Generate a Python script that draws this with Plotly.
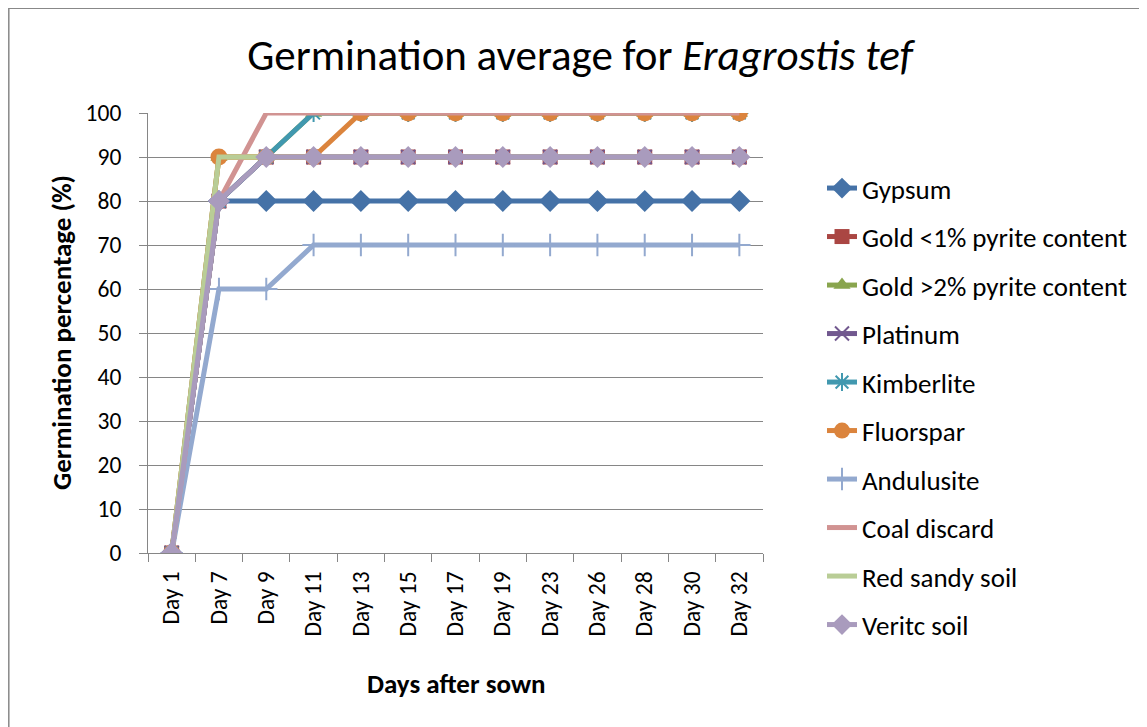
import plotly.graph_objects as go

days = ["Day 1", "Day 7", "Day 9", "Day 11", "Day 13", "Day 15", "Day 17",
        "Day 19", "Day 23", "Day 26", "Day 28", "Day 30", "Day 32"]

gypsum      = [0, 80, 80, 80, 80, 80, 80, 80, 80, 80, 80, 80, 80]
gold_lt1    = [0, 80, 90, 90, 90, 90, 90, 90, 90, 90, 90, 90, 90]
gold_gt2    = [0, 90, 90, 100, 100, 100, 100, 100, 100, 100, 100, 100, 100]
platinum    = [0, 80, 90, 90, 90, 90, 90, 90, 90, 90, 90, 90, 90]
kimberlite  = [0, 80, 90, 100, 100, 100, 100, 100, 100, 100, 100, 100, 100]
fluorspar   = [0, 90, 90, 90, 100, 100, 100, 100, 100, 100, 100, 100, 100]
andulusite  = [0, 60, 60, 70, 70, 70, 70, 70, 70, 70, 70, 70, 70]
coal        = [0, 80, 100, 100, 100, 100, 100, 100, 100, 100, 100, 100, 100]
red_sandy   = [0, 90, 90, 90, 90, 90, 90, 90, 90, 90, 90, 90, 90]
veritc      = [0, 80, 90, 90, 90, 90, 90, 90, 90, 90, 90, 90, 90]

series_names = ["Gypsum", "Gold <1% pyrite content", "Gold >2% pyrite content",
                "Platinum", "Kimberlite", "Fluorspar", "Andulusite",
                "Coal discard", "Red sandy soil", "Veritc soil"]
series_values = [gypsum, gold_lt1, gold_gt2, platinum, kimberlite, fluorspar,
                 andulusite, coal, red_sandy, veritc]

colors = ["#4572A7", "#AA4643", "#89A54E", "#71588F", "#4198AF", "#DB843D",
          "#93A9CF", "#D19392", "#B9CD96", "#A99BBD"]
symbols = ["diamond", "square", "triangle-up", "x-thin", "asterisk-open", "circle",
           "cross-thin", None, None, "diamond"]
msizes = [17, 15, 15, 14, 15, 17, 16, 0, 0, 17]

FONT = "Carlito, Lato, sans-serif"

# the page body has an 8px margin, so figure coords = screen coords - 8
OFF = 8
W, H = 1147 - OFF, 727 - OFF
L, R, T, B = 148 - OFF, 763 - OFF, 113 - OFF, 553 - OFF

def px(xs):
    return (xs - OFF - L) / (R - L)

def py(ys):
    return (B - (ys - OFF)) / (B - T)

fig = go.Figure()
for i, (name, vals) in enumerate(zip(series_names, series_values)):
    sym = symbols[i]
    if sym is None:
        mode = "lines"
        marker = None
    else:
        mode = "lines+markers"
        if sym in ("x-thin", "asterisk-open", "cross-thin"):
            marker = dict(symbol=sym, size=msizes[i], color=colors[i],
                          line=dict(color=colors[i], width=2))
        else:
            marker = dict(symbol=sym, size=msizes[i], color=colors[i],
                          line=dict(width=0))
    fig.add_trace(go.Scatter(
        x=days, y=vals, name=name, mode=mode,
        line=dict(color=colors[i], width=5),
        marker=marker, legendgroup=name,
    ))

fig.update_layout(
    width=W, height=H, autosize=False,
    margin=dict(l=L, r=W - R, t=T, b=H - B, pad=0, autoexpand=False),
    paper_bgcolor="white", plot_bgcolor="white",
    font=dict(family=FONT, size=23, color="black"),
    showlegend=True,
    legend=dict(x=(862 - OFF - 40 - L) / (R - L), xref="paper",
                y=1 - (188 - OFF - 24) / H, yref="container",
                xanchor="left", yanchor="top",
                font=dict(family=FONT, size=27, color="black"),
                traceorder="grouped", tracegroupgap=10.4,
                bgcolor="rgba(0,0,0,0)", borderwidth=0),
    title=dict(text="Germination average for <i>Eragrostis tef</i>",
               x=(580 - OFF) / W, xanchor="center", xref="container",
               y=1 - (55 - OFF) / H, yanchor="middle", yref="container",
               font=dict(family=FONT, size=43, color="black")),
)
fig.update_layout(legend_maxheight=660)

fig.update_xaxes(
    type="category", tickangle=-90, showgrid=False,
    showline=True, linecolor="#868686", linewidth=1,
    ticks="outside", ticklen=8, tickcolor="#868686", tickson="boundaries",
    tickfont=dict(family=FONT, size=23.5, color="black"),
    ticklabelstandoff=8, automargin=False,
    range=[-0.5, len(days) - 0.5],
)
fig.update_yaxes(
    range=[0, 100], dtick=10, tick0=0,
    showgrid=True, gridcolor="#868686", gridwidth=1,
    showline=True, linecolor="#868686", linewidth=1,
    ticks="outside", ticklen=8, tickcolor="#868686",
    tickfont=dict(family=FONT, size=23.5, color="black"),
    ticklabelstandoff=13, zeroline=False, automargin=False,
)

fig.add_annotation(text="<b>Days after sown</b>", xref="paper", yref="paper",
                   x=px(456), y=py(683), showarrow=False,
                   xanchor="center", yanchor="middle",
                   font=dict(family=FONT, size=27, color="black"))
fig.add_annotation(text="<b>Germination percentage (%)</b>", xref="paper", yref="paper",
                   x=px(61), y=py(333), showarrow=False, textangle=-90,
                   xanchor="center", yanchor="middle",
                   font=dict(family=FONT, size=27, color="black"))

# chart border (top and left edges visible)
fig.add_shape(type="rect", xref="paper", yref="paper",
              x0=px(8.8), y0=py(760), x1=px(1180), y1=py(8.3),
              line=dict(color="#888888", width=1.5), fillcolor="rgba(0,0,0,0)",
              layer="below")

fig.write_html("out.html")
